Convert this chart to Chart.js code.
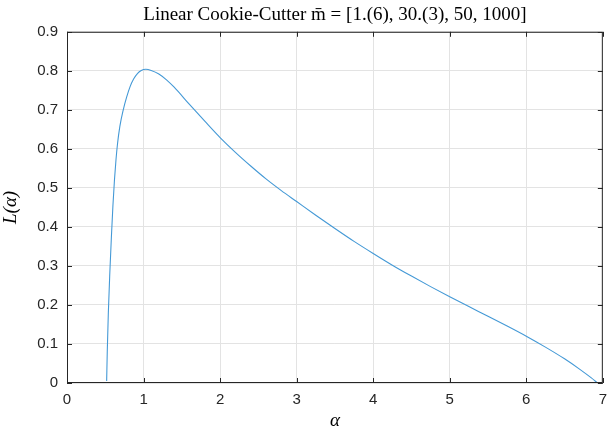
<!DOCTYPE html>
<html>
<head>
<meta charset="utf-8">
<script src="https://cdn.jsdelivr.net/npm/chart.js@4"></script>
<style>
  html, body { margin: 0; padding: 0; background: #fff; }
</style>
</head>
<body>
<canvas id="lossChart" width="610" height="427"></canvas>
<script>
// values
const alphaVals = [0.518, 0.526, 0.54, 0.56, 0.58, 0.6, 0.62, 0.64, 0.66, 0.69, 0.735, 0.78, 0.823, 0.87, 0.92, 0.97, 1.03, 1.1, 1.2, 1.3, 1.4, 1.6, 1.8, 2.0, 2.2, 2.4, 2.6, 2.8, 3.0, 3.25, 3.5, 3.75, 4.0, 4.25, 4.5, 4.75, 5.0, 5.25, 5.5, 5.75, 6.0, 6.25, 6.5, 6.7, 6.85, 6.93];
const lossVals = [0.005, 0.08, 0.18, 0.285, 0.375, 0.455, 0.52, 0.572, 0.613, 0.657, 0.7, 0.733, 0.759, 0.779, 0.793, 0.801, 0.804, 0.801, 0.792, 0.777, 0.758, 0.714, 0.671, 0.629, 0.591, 0.556, 0.523, 0.493, 0.465, 0.43, 0.396, 0.363, 0.332, 0.302, 0.274, 0.247, 0.221, 0.196, 0.171, 0.146, 0.12, 0.092, 0.062, 0.035, 0.013, 0.0];
const xTicks = [0, 1, 2, 3, 4, 5, 6, 7];
const yTicks = [0, 0.1, 0.2, 0.3, 0.4, 0.5, 0.6, 0.7, 0.8, 0.9];

const axisColor = "#262626";
const gridColor = "#e3e3e3";
const tickFont = { family: "Liberation Sans", size: 15 };

// box around the plot with inward tick marks, like the original
const boxPlugin = {
  id: "box",
  afterDraw(chart) {
    const { ctx, chartArea: a, scales } = chart;
    ctx.save();
    ctx.strokeStyle = axisColor;
    ctx.lineWidth = 1;
    ctx.strokeRect(a.left + 0.5, a.top + 0.5, a.right - a.left - 1, a.bottom - a.top - 1);
    ctx.beginPath();
    xTicks.forEach((t) => {
      const px = Math.round(scales.x.getPixelForValue(t)) + 0.5;
      ctx.moveTo(px, a.bottom); ctx.lineTo(px, a.bottom - 5);
      ctx.moveTo(px, a.top); ctx.lineTo(px, a.top + 5);
    });
    yTicks.forEach((t) => {
      const py = Math.round(scales.y.getPixelForValue(t)) + 0.5;
      ctx.moveTo(a.left, py); ctx.lineTo(a.left + 5, py);
      ctx.moveTo(a.right, py); ctx.lineTo(a.right - 5, py);
    });
    ctx.stroke();
    ctx.restore();
  },
};

const points = alphaVals.map((a, i) => ({ x: a, y: lossVals[i] }));

new Chart(document.getElementById("lossChart"), {
  type: "scatter",
  data: {
    datasets: [
      {
        data: points,
        showLine: true,
        borderColor: "#4499d6",
        borderWidth: 1.1,
        pointRadius: 0,
        cubicInterpolationMode: "monotone",
      },
    ],
  },
  options: {
    responsive: false,
    animation: false,
    devicePixelRatio: 1,
    layout: { padding: { top: 0, right: 0, left: 0, bottom: 0 } },
    plugins: {
      legend: { display: false },
      tooltip: { enabled: false },
      title: {
        display: true,
        fullSize: false,
        text: "Linear Cookie-Cutter m\u0304 = [1.(6), 30.(3), 50, 1000]",
        color: "#000",
        font: { family: "Liberation Serif", size: 19, weight: "normal" },
        padding: { top: 4, bottom: 5 },
      },
    },
    scales: {
      x: {
        type: "linear",
        min: 0,
        max: 7,
        afterBuildTicks: (s) => { s.ticks = xTicks.map((v) => ({ value: v })); },
        afterFit: (s) => { s.height = 44; },
        ticks: { color: axisColor, font: tickFont, padding: 3, autoSkip: false, maxRotation: 0 },
        grid: { color: gridColor, drawTicks: true, tickLength: 5, tickColor: "rgba(0,0,0,0)" },
        border: { display: false },
        title: {
          display: true,
          text: "α",
          color: "#000",
          font: { family: "Liberation Serif", size: 19, style: "italic" },
          padding: { top: 0, bottom: -5 },
        },
      },
      y: {
        type: "linear",
        min: 0,
        max: 0.9,
        afterBuildTicks: (s) => { s.ticks = yTicks.map((v) => ({ value: v })); },
        afterFit: (s) => { s.width = 67; },
        ticks: { color: axisColor, font: tickFont, padding: 9, autoSkip: false },
        grid: { color: gridColor, drawTicks: false },
        border: { display: false },
        title: {
          display: true,
          text: "L(α)",
          color: "#000",
          font: { family: "Liberation Serif", size: 19, style: "italic" },
          padding: { top: 0, bottom: 2 },
        },
      },
    },
  },
  plugins: [boxPlugin],
});
</script>
</body>
</html>
